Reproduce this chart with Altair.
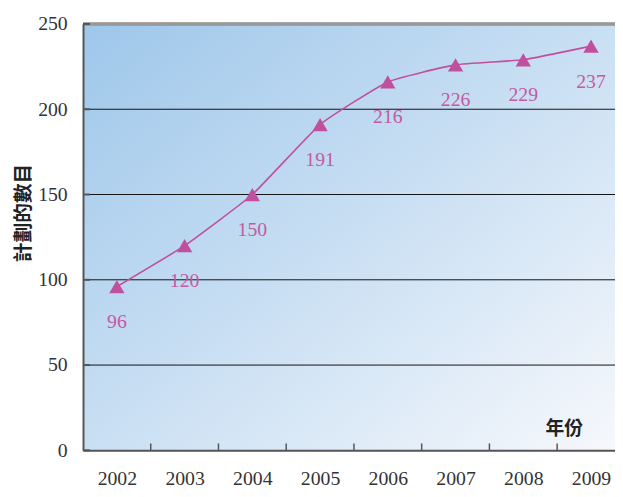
import altair as alt
import pandas as pd

years = [2002, 2003, 2004, 2005, 2006, 2007, 2008, 2009]
values = [96, 120, 150, 191, 216, 226, 229, 237]
y_ticks = [0, 50, 100, 150, 200, 250]
grid_values = [50, 100, 150, 200]

df = pd.DataFrame({"year": years, "value": values})
tick_df = pd.DataFrame({"t": y_ticks})
grid_df = pd.DataFrame({"t": grid_values})
year_df = pd.DataFrame({"year": years})

PINK = "#c0509e"
LABEL_PINK = "#c45aa2"
SERIF = "Liberation Serif"
CJK = "Noto Sans CJK TC"

# each year occupies one unit; the last unit runs past the window edge as in the reference
x_scale = alt.Scale(domain=[2001.5, 2009.354], nice=False, zero=False)
y_scale = alt.Scale(domain=[0, 250], nice=False)

x_axis = alt.Axis(
    title="年份", titleX=487, titleY=-22, titleAlign="center", titleBaseline="middle",
    titleFont=CJK, titleFontWeight="bold", titleFontSize=19, titleColor="#222",
    values=years, format="d",
    labelAngle=0, labelFont=SERIF, labelFontSize=20, labelColor="#333",
    labelBaseline="alphabetic", labelPadding=35, labelFlush=False,
    tickSize=0, domainColor="#555", domainWidth=2, grid=False, zindex=1,
)
y_axis = alt.Axis(
    title="計劃的數目", titleX=-60, titleY=191, titleAngle=-90, titleAlign="center",
    titleBaseline="middle", titleFont=CJK, titleFontWeight="bold", titleFontSize=20,
    titleColor="#222",
    values=y_ticks, labelFont=SERIF, labelFontSize=20, labelColor="#333", labelPadding=16,
    tickSize=0, domainColor="#555", domainWidth=2, grid=False, zindex=1,
)

X = alt.X("year:Q", scale=x_scale, axis=x_axis)
Y = alt.Y("value:Q", scale=y_scale, axis=y_axis)

base = alt.Chart(df)

gradient = alt.LinearGradient(
    gradient="linear", x1=0, y1=0, x2=1, y2=1,
    stops=[
        alt.GradientStop(color="#9ec7ea", offset=0),
        alt.GradientStop(color="#c9dff3", offset=0.5),
        alt.GradientStop(color="#f6f8fc", offset=1),
    ],
)
background = alt.Chart(pd.DataFrame({"a": [0]})).mark_rect(fill=gradient, strokeWidth=0).encode(
    x=alt.value(0), x2=alt.value(539), y=alt.value(0), y2=alt.value(432))

grid_rules = alt.Chart(grid_df).mark_rule(color="#111", strokeWidth=1).encode(
    y=alt.Y("t:Q", scale=y_scale, axis=y_axis), x=alt.value(0), x2=alt.value(539))

line = base.mark_line(color=PINK, strokeWidth=1.6, interpolate="cardinal", tension=0.6).encode(x=X, y=Y)
pts = base.mark_point(shape="triangle-up", filled=True, size=240, color=PINK, opacity=1).encode(x=X, y=Y)
labels = base.mark_text(dy=36, fontSize=20, font=SERIF, color=LABEL_PINK).encode(
    x=X, y=Y, text="value:Q")

top_border = alt.Chart(tick_df).mark_rule(color="#999", strokeWidth=2.5).encode(
    y=alt.datum(250), x=alt.value(0), x2=alt.value(539))

ytick_rules = alt.Chart(tick_df).mark_rule(color="#555", strokeWidth=2).encode(
    y=alt.Y("t:Q", scale=y_scale, axis=y_axis), x=alt.value(0), x2=alt.value(7))

xtick_rules = alt.Chart(year_df).transform_calculate(b="datum.year + 0.5").transform_filter(
    "datum.b < 2009.3").mark_rule(color="#555", strokeWidth=1.5).encode(
    x=alt.X("b:Q", scale=x_scale, axis=x_axis),
    y=alt.value(432), y2=alt.value(425))

chart = alt.layer(background, grid_rules, top_border, ytick_rules, xtick_rules, line, pts, labels).properties(
    width=539, height=432,
    autosize=alt.AutoSizeParams(type="none"),
    padding={"left": 76, "top": 13, "right": 0, "bottom": 36},
).configure_view(stroke=None)

chart.save("out.html", embed_options={"renderer": "svg", "actions": False})
